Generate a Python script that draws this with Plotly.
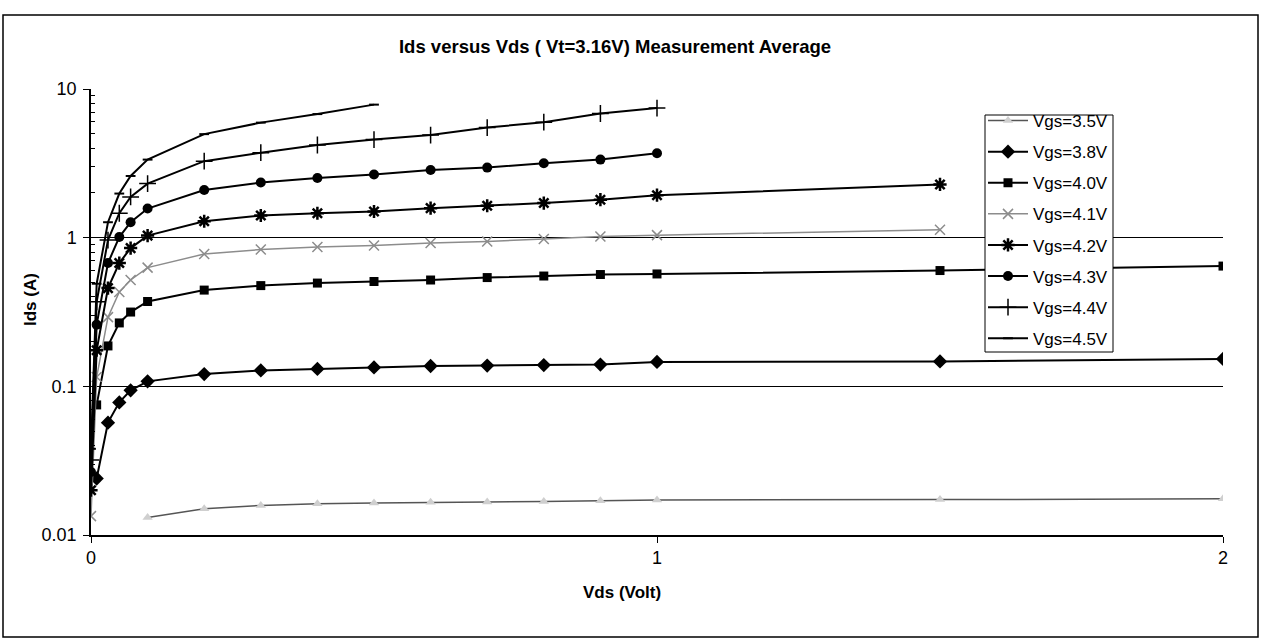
import plotly.graph_objects as go

# ---- data ----
vds_35 = [0.1, 0.2, 0.3, 0.4, 0.5, 0.6, 0.7, 0.8, 0.9, 1.0, 1.5, 2.0]
ids_35 = [0.0131, 0.0150, 0.0158, 0.0162, 0.0164, 0.0166, 0.0167, 0.0168, 0.0170, 0.0172, 0.0173, 0.0175]

vds_38 = [0.01, 0.03, 0.05, 0.07, 0.1, 0.2, 0.3, 0.4, 0.5, 0.6, 0.7, 0.8, 0.9, 1.0, 1.5, 2.0]
ids_38 = [0.024, 0.057, 0.078, 0.094, 0.108, 0.121, 0.128, 0.131, 0.134, 0.137, 0.138, 0.139, 0.140, 0.146, 0.147, 0.153]

vds_40 = [0.01, 0.03, 0.05, 0.07, 0.1, 0.2, 0.3, 0.4, 0.5, 0.6, 0.7, 0.8, 0.9, 1.0, 1.5, 2.0]
ids_40 = [0.075, 0.187, 0.267, 0.316, 0.372, 0.444, 0.476, 0.495, 0.507, 0.519, 0.539, 0.552, 0.565, 0.570, 0.601, 0.644]

vds_41 = [0.0, 0.01, 0.03, 0.05, 0.07, 0.1, 0.2, 0.3, 0.4, 0.5, 0.6, 0.7, 0.8, 0.9, 1.0, 1.5]
ids_41 = [0.0134, 0.1155, 0.292, 0.431, 0.519, 0.629, 0.776, 0.832, 0.865, 0.885, 0.920, 0.942, 0.979, 1.017, 1.04, 1.13]

vds_42 = [0.0, 0.01, 0.03, 0.05, 0.07, 0.1, 0.2, 0.3, 0.4, 0.5, 0.6, 0.7, 0.8, 0.9, 1.0, 1.5]
ids_42 = [0.020, 0.175, 0.458, 0.675, 0.851, 1.033, 1.29, 1.41, 1.46, 1.50, 1.58, 1.64, 1.71, 1.80, 1.93, 2.28]

vds_43 = [0.0, 0.01, 0.03, 0.05, 0.07, 0.1, 0.2, 0.3, 0.4, 0.5, 0.6, 0.7, 0.8, 0.9, 1.0]
ids_43 = [0.0265, 0.26, 0.675, 1.01, 1.27, 1.57, 2.09, 2.35, 2.52, 2.66, 2.85, 2.96, 3.17, 3.35, 3.70]

vds_44 = [0.0, 0.01, 0.03, 0.05, 0.07, 0.1, 0.2, 0.3, 0.4, 0.5, 0.6, 0.7, 0.8, 0.9, 1.0]
ids_44 = [0.032, 0.37, 0.964, 1.46, 1.88, 2.31, 3.27, 3.73, 4.20, 4.57, 4.90, 5.50, 5.98, 6.84, 7.44]

vds_45 = [0.0, 0.01, 0.03, 0.05, 0.07, 0.1, 0.2, 0.3, 0.4, 0.5]
ids_45 = [0.038, 0.49, 1.27, 1.98, 2.60, 3.35, 4.97, 5.94, 6.78, 7.85]

series_names = ["Vgs=3.5V", "Vgs=3.8V", "Vgs=4.0V", "Vgs=4.1V",
                "Vgs=4.2V", "Vgs=4.3V", "Vgs=4.4V", "Vgs=4.5V"]

y_tick_vals = [0.01, 0.1, 1, 10]
y_tick_text = ["0.01", "0.1", "1", "10"]
x_tick_vals = [0, 1, 2]
x_tick_text = ["0", "1", "2"]

title_text = "Ids versus Vds ( Vt=3.16V) Measurement Average"
x_title = "Vds (Volt)"
y_title = "Ids (A)"

# ---- styles ----
styles = [
    dict(line=dict(color="#555555", width=1.5), marker=dict(symbol="triangle-up", size=9, color="#cfcfcf")),
    dict(line=dict(color="black", width=2), marker=dict(symbol="diamond", size=11, color="black")),
    dict(line=dict(color="black", width=2), marker=dict(symbol="square", size=9, color="black")),
    dict(line=dict(color="#8c8c8c", width=1.5), marker=dict(symbol="x-thin-open", size=10, color="#8c8c8c", line=dict(width=1.5, color="#8c8c8c"))),
    dict(line=dict(color="black", width=2), marker=dict(symbol="asterisk-open", size=11, color="black", line=dict(width=2.5, color="black"))),
    dict(line=dict(color="black", width=2), marker=dict(symbol="circle", size=10, color="black")),
    dict(line=dict(color="black", width=2), marker=dict(symbol="cross-thin-open", size=12, color="black", line=dict(width=1.5, color="black"))),
    dict(line=dict(color="black", width=2), marker=dict(symbol="line-ew-open", size=7, color="black", line=dict(width=2, color="black"))),
]

xs = [vds_35, vds_38, vds_40, vds_41, vds_42, vds_43, vds_44, vds_45]
ys = [ids_35, ids_38, ids_40, ids_41, ids_42, ids_43, ids_44, ids_45]

FONT = "Liberation Sans, Arial, sans-serif"

fig = go.Figure()
for i, (name, x, y, st) in enumerate(zip(series_names, xs, ys, styles)):
    fig.add_trace(go.Scatter(x=x, y=y, name=name, mode="lines+markers",
                             line=st["line"], marker=st["marker"],
                             legendgroup=f"g{i}"))

minor_vals = [m * 10 ** e for e in (-2, -1, 0) for m in range(2, 10)]

W, H = 1265, 640
L, R, T, B = 91, 42, 89, 105
pw, ph = W - L - R, H - T - B

def px_x(px):
    return (px - L) / pw

def px_y(py):
    return (H - B - py) / ph

fig.update_layout(
    width=W, height=H,
    margin=dict(l=L, r=R, t=T, b=B),
    paper_bgcolor="white", plot_bgcolor="white",
    font=dict(family=FONT, color="black", size=18),
    title=dict(text=f"<b>{title_text}</b>", x=615 / W, xref="container", xanchor="center",
               y=1 - 47 / H, yref="container", yanchor="middle",
               font=dict(size=18.5, family=FONT, color="black")),
    showlegend=True,
    legend=dict(x=px_x(983), y=px_y(103), xanchor="left", yanchor="top",
                bgcolor="rgba(0,0,0,0)", borderwidth=0,
                font=dict(size=17, family=FONT), itemwidth=40, tracegroupgap=6),
    xaxis=dict(range=[0, 2], tickvals=x_tick_vals, ticktext=x_tick_text,
               showline=True, linecolor="black", linewidth=1.5,
               ticks="outside", ticklen=6, tickcolor="black",
               showgrid=False, zeroline=False, tickfont=dict(size=18)),
    yaxis=dict(type="log", range=[-2, 1], tickvals=y_tick_vals, ticktext=y_tick_text,
               showline=True, linecolor="black", linewidth=1.5,
               ticks="outside", ticklen=6, tickcolor="black", ticklabelstandoff=3,
               showgrid=True, gridcolor="black", gridwidth=1,
               zeroline=False, tickfont=dict(size=18),
               minor=dict(tickvals=minor_vals, ticks="inside", ticklen=4,
                          tickcolor="black", showgrid=False)),
    annotations=[
        dict(text=f"<b>{x_title}</b>", x=px_x(622), y=px_y(592), xref="paper", yref="paper",
             showarrow=False, font=dict(size=17, family=FONT), xanchor="center", yanchor="middle"),
        dict(text=f"<b>{y_title}</b>", x=px_x(30), y=px_y(300), xref="paper", yref="paper",
             showarrow=False, textangle=-90, font=dict(size=17, family=FONT),
             xanchor="center", yanchor="middle"),
    ],
    shapes=[
        dict(type="rect", xref="paper", yref="paper",
             x0=px_x(3), x1=px_x(1258), y0=px_y(637), y1=px_y(15),
             line=dict(color="black", width=1.5), fillcolor="rgba(0,0,0,0)", layer="below"),
        dict(type="rect", xref="paper", yref="paper",
             x0=px_x(985), x1=px_x(1113), y0=px_y(352), y1=px_y(115),
             line=dict(color="black", width=1), fillcolor="white", layer="above"),
    ],
)

fig.write_html("out.html")
